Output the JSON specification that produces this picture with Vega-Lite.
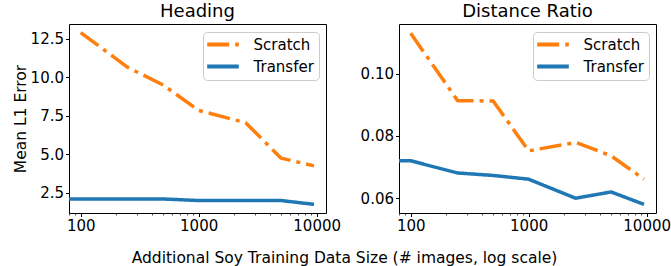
{
  "$schema": "https://vega.github.io/schema/vega-lite/v6.json",
  "padding": {"left": 12, "top": 2, "right": 0, "bottom": 0},
  "background": "white",
  "config": {
    "font": "DejaVu Sans",
    "view": {"stroke": "#000", "strokeWidth": 1},
    "axis": {
      "grid": false, "domain": false,
      "labelFont": "DejaVu Sans", "labelFontSize": 15, "labelColor": "#000",
      "tickColor": "#000", "tickSize": 3.5, "tickWidth": 1,
      "titleFont": "DejaVu Sans", "titleFontSize": 15.5, "titleFontWeight": "normal", "titleColor": "#000",
      "labelPadding": 2
    },
    "title": {"font": "DejaVu Sans", "fontSize": 18, "fontWeight": "normal", "color": "#000", "baseline": "alphabetic", "offset": 3, "anchor": "middle"},
    "legend": {
      "orient": "top-right", "offset": 7.5, "title": null,
      "padding": 5, "rowPadding": 5,
      "labelFont": "DejaVu Sans", "labelFontSize": 15, "labelColor": "#000", "labelOffset": 23,
      "symbolType": "M-3,0H3", "symbolSize": 111, "symbolStrokeWidth": 4, "symbolOffset": 7.5,
      "strokeColor": "#cccccc", "fillColor": "rgba(255,255,255,0.85)", "cornerRadius": 4
    }
  },
  "datasets": {
    "d": [
      {"metric": "Heading", "size": 100, "series": "Scratch", "value": 12.9},
      {"metric": "Heading", "size": 250, "series": "Scratch", "value": 10.65},
      {"metric": "Heading", "size": 500, "series": "Scratch", "value": 9.5},
      {"metric": "Heading", "size": 1000, "series": "Scratch", "value": 7.85},
      {"metric": "Heading", "size": 2500, "series": "Scratch", "value": 7.05},
      {"metric": "Heading", "size": 5000, "series": "Scratch", "value": 4.75},
      {"metric": "Heading", "size": 9500, "series": "Scratch", "value": 4.25},
      {"metric": "Heading", "size": 1, "series": "Transfer", "value": 2.1},
      {"metric": "Heading", "size": 100, "series": "Transfer", "value": 2.1},
      {"metric": "Heading", "size": 250, "series": "Transfer", "value": 2.1},
      {"metric": "Heading", "size": 500, "series": "Transfer", "value": 2.1},
      {"metric": "Heading", "size": 1000, "series": "Transfer", "value": 2.0},
      {"metric": "Heading", "size": 2500, "series": "Transfer", "value": 2.0},
      {"metric": "Heading", "size": 5000, "series": "Transfer", "value": 2.0},
      {"metric": "Heading", "size": 9500, "series": "Transfer", "value": 1.75},
      {"metric": "Distance Ratio", "size": 100, "series": "Scratch", "value": 0.1129},
      {"metric": "Distance Ratio", "size": 250, "series": "Scratch", "value": 0.0913},
      {"metric": "Distance Ratio", "size": 500, "series": "Scratch", "value": 0.0912},
      {"metric": "Distance Ratio", "size": 1000, "series": "Scratch", "value": 0.0752},
      {"metric": "Distance Ratio", "size": 2500, "series": "Scratch", "value": 0.0779},
      {"metric": "Distance Ratio", "size": 5000, "series": "Scratch", "value": 0.0736},
      {"metric": "Distance Ratio", "size": 9500, "series": "Scratch", "value": 0.0661},
      {"metric": "Distance Ratio", "size": 1, "series": "Transfer", "value": 0.072},
      {"metric": "Distance Ratio", "size": 100, "series": "Transfer", "value": 0.072},
      {"metric": "Distance Ratio", "size": 250, "series": "Transfer", "value": 0.0681},
      {"metric": "Distance Ratio", "size": 500, "series": "Transfer", "value": 0.0673},
      {"metric": "Distance Ratio", "size": 1000, "series": "Transfer", "value": 0.0661},
      {"metric": "Distance Ratio", "size": 2500, "series": "Transfer", "value": 0.06},
      {"metric": "Distance Ratio", "size": 5000, "series": "Transfer", "value": 0.062},
      {"metric": "Distance Ratio", "size": 9500, "series": "Transfer", "value": 0.058}
    ]
  },
  "bounds": "flush",
  "spacing": 73,
  "resolve": {
    "scale": {"x": "independent", "y": "independent", "color": "independent", "strokeDash": "independent"},
    "legend": {"color": "independent", "strokeDash": "independent"}
  },
  "hconcat": [
    {
      "width": 257, "height": 189,
      "title": {"text": "Heading"},
      "data": {"name": "d"},
      "transform": [{"filter": "datum.metric == 'Heading'"}],
      "mark": {"type": "line", "clip": true, "strokeWidth": 3.5, "strokeJoin": "round"},
      "encoding": {
        "x": {
          "field": "size", "type": "quantitative",
          "scale": {"type": "log", "domain": [79.6, 12000], "nice": false},
          "axis": {
            "values": [80, 90, 100, 200, 300, 400, 500, 600, 700, 800, 900, 1000, 2000, 3000, 4000, 5000, 6000, 7000, 8000, 9000, 10000],
            "format": "d",
            "labelExpr": "(datum.value == 100 || datum.value == 1000 || datum.value == 10000) ? datum.label : ''",
            "labelOverlap": false,
            "tickSize": {"condition": {"test": "datum.value == 100 || datum.value == 1000 || datum.value == 10000", "value": 3.5}, "value": 2},
            "tickWidth": {"condition": {"test": "datum.value == 100 || datum.value == 1000 || datum.value == 10000", "value": 1}, "value": 0.7},
            "title": "Additional Soy Training Data Size (# images, log scale)",
            "titleX": 275, "titleY": 49, "titleAlign": "center", "titleBaseline": "alphabetic", "titleAngle": 0
          }
        },
        "y": {
          "field": "value", "type": "quantitative",
          "scale": {"domain": [1.19, 13.46], "nice": false, "zero": false},
          "axis": {"values": [2.5, 5, 7.5, 10, 12.5], "format": ".1f", "title": "Mean L1 Error", "titlePadding": 2}
        },
        "color": {"field": "series", "type": "nominal", "scale": {"domain": ["Scratch", "Transfer"], "range": ["#ff7f0e", "#1f77b4"]}},
        "strokeDash": {"field": "series", "type": "nominal", "scale": {"domain": ["Scratch", "Transfer"], "range": [[22, 6, 4, 6], [1, 0]]}}
      }
    },
    {
      "width": 257, "height": 189,
      "title": {"text": "Distance Ratio"},
      "data": {"name": "d"},
      "transform": [{"filter": "datum.metric == 'Distance Ratio'"}],
      "mark": {"type": "line", "clip": true, "strokeWidth": 3.5, "strokeJoin": "round"},
      "encoding": {
        "x": {
          "field": "size", "type": "quantitative",
          "scale": {"type": "log", "domain": [79.6, 12000], "nice": false},
          "axis": {
            "values": [80, 90, 100, 200, 300, 400, 500, 600, 700, 800, 900, 1000, 2000, 3000, 4000, 5000, 6000, 7000, 8000, 9000, 10000],
            "format": "d",
            "labelExpr": "(datum.value == 100 || datum.value == 1000 || datum.value == 10000) ? datum.label : ''",
            "labelOverlap": false,
            "tickSize": {"condition": {"test": "datum.value == 100 || datum.value == 1000 || datum.value == 10000", "value": 3.5}, "value": 2},
            "tickWidth": {"condition": {"test": "datum.value == 100 || datum.value == 1000 || datum.value == 10000", "value": 1}, "value": 0.7},
            "title": null
          }
        },
        "y": {
          "field": "value", "type": "quantitative",
          "scale": {"domain": [0.05525, 0.1159], "nice": false, "zero": false},
          "axis": {"values": [0.06, 0.08, 0.10], "format": ".2f", "title": null}
        },
        "color": {"field": "series", "type": "nominal", "scale": {"domain": ["Scratch", "Transfer"], "range": ["#ff7f0e", "#1f77b4"]}},
        "strokeDash": {"field": "series", "type": "nominal", "scale": {"domain": ["Scratch", "Transfer"], "range": [[22, 6, 4, 6], [1, 0]]}}
      }
    }
  ]
}
